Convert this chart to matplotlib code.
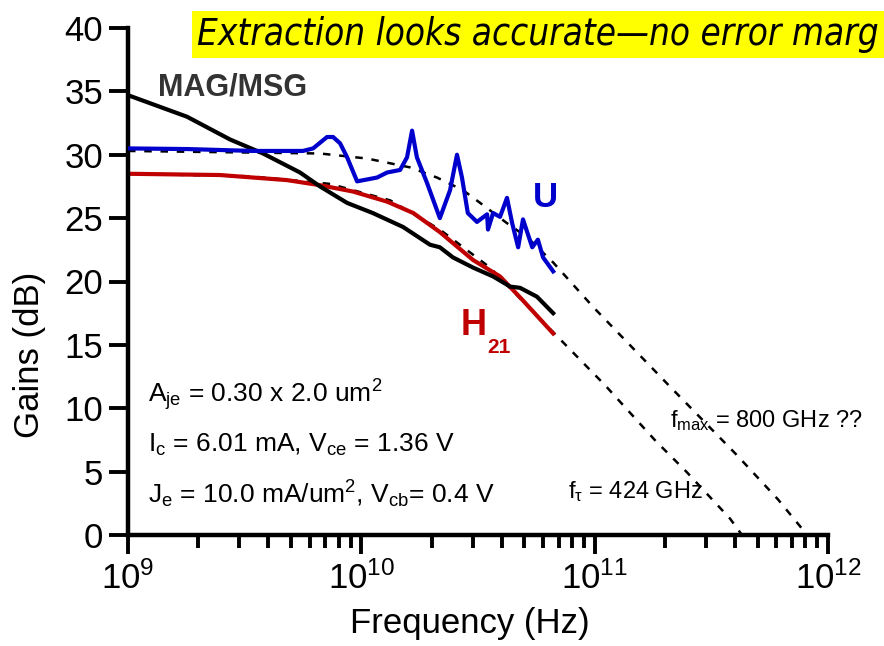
import numpy as np
import matplotlib.pyplot as plt
from matplotlib import font_manager
from matplotlib.ticker import LogLocator, NullFormatter

plt.rcParams['font.family'] = ['Liberation Sans', 'DejaVu Sans']
plt.rcParams['mathtext.fontset'] = 'custom'
plt.rcParams['mathtext.rm'] = 'Liberation Sans'
plt.rcParams['mathtext.it'] = 'Liberation Sans'
plt.rcParams['mathtext.bf'] = 'Liberation Sans:bold'

# Mediciones (frecuencia en GHz, ganancia en dB)
mag_f = [1.0, 1.79, 2.74, 3.79, 5.46, 6.65, 8.69, 11.2, 15.1, 19.7, 21.7, 24.7, 30.1, 36.7, 43.4, 47.9, 56.6, 66.4]
mag_db = [34.7, 33.0, 31.2, 30.1, 28.6, 27.5, 26.2, 25.4, 24.3, 22.9, 22.7, 21.9, 21.1, 20.4, 19.6, 19.5, 18.8, 17.5]

h21_f = [1.0, 2.48, 4.80, 6.65, 9.2, 12.9, 16.7, 21.7, 30.1, 39.3, 49.3, 66.4]
h21_db = [28.5, 28.4, 28.0, 27.6, 27.1, 26.3, 25.4, 23.9, 21.7, 20.4, 18.5, 15.9]

u_f = [1.0, 1.79, 3.44, 5.62, 6.21, 7.13, 7.57, 8.11, 8.69, 9.59, 11.67, 12.9, 14.66, 15.7, 16.5,
       17.3, 19.1, 21.7, 24.0, 25.7, 27.0, 28.6, 31.3, 34.6, 34.9, 36.7, 39.3, 42.1, 44.3, 47.0,
       49.3, 54.0, 57.1, 60.1, 66.4]
u_db = [30.5, 30.45, 30.3, 30.3, 30.5, 31.4, 31.4, 30.9, 29.8, 27.9, 28.2, 28.6, 28.8, 29.8, 31.9,
        29.8, 27.8, 25.0, 27.2, 30.0, 28.2, 25.4, 24.7, 25.3, 24.1, 25.4, 25.1, 26.6, 24.6, 22.7,
        24.9, 22.7, 23.3, 21.9, 20.8]

# Ajustes (lineas punteadas)
u_fit_f = [1.0, 6.65, 10.6, 16.2, 21.1, 27.3, 32.3, 42.1, 51.3, 66.4, 98.4, 208, 407, 611, 798]
u_fit_db = [30.3, 30.1, 29.7, 29.0, 28.2, 27.2, 26.2, 24.6, 23.5, 21.5, 18.0, 11.8, 6.3, 2.8, 0.2]

h21_fit_f = [1.0, 3.34, 7.35, 13.3, 21.7, 35.6, 66.4, 111, 183, 247, 380, 424]
h21_fit_db = [28.5, 28.3, 27.7, 26.4, 24.1, 21.1, 16.0, 11.8, 7.4, 5.0, 1.3, 0.1]

W, H = 884, 646


def px(x, y):
    return x / W, 1 - y / H


# Fuente estrecha para el titulo, si existe
nombres = {f.name for f in font_manager.fontManager.ttflist}
condensadas = [f for f in font_manager.fontManager.ttflist
               if f.name == 'DejaVu Sans' and 'Condensed' in f.fname]
if 'Liberation Sans Narrow' in nombres:
    titulo_font = dict(family='Liberation Sans Narrow', style='italic')
elif condensadas:
    titulo_font = dict(family='DejaVu Sans', stretch='condensed', style='oblique')
else:
    titulo_font = dict(family='Liberation Sans', style='italic')

fig = plt.figure(figsize=(W / 100, H / 100), dpi=100)
ax = fig.add_axes([128 / W, 1 - 535 / H, 700 / W, 507 / H])

ghz = 1e9
ax.plot(np.array(u_fit_f) * ghz, u_fit_db, color='black', lw=1.8, dashes=[3, 3.5], zorder=1)
ax.plot(np.array(h21_fit_f) * ghz, h21_fit_db, color='black', lw=1.8, dashes=[3, 3.5], zorder=1)
ax.plot(np.array(mag_f) * ghz, mag_db, color='black', lw=3, zorder=3)
ax.plot(np.array(h21_f) * ghz, h21_db, color='#C00000', lw=3, zorder=2)
ax.plot(np.array(u_f) * ghz, u_db, color='#0000CC', lw=3, zorder=4)

ax.set_xscale('log')
ax.set_xlim(1e9, 1e12)
ax.set_ylim(0, 40)
ax.set_yticks(np.arange(0, 41, 5))
ax.xaxis.set_major_locator(LogLocator(base=10, numticks=10))
ax.xaxis.set_minor_locator(LogLocator(base=10, subs=np.arange(2, 10), numticks=20))
ax.xaxis.set_minor_formatter(NullFormatter())

for s in ['top', 'right']:
    ax.spines[s].set_visible(False)
for s in ['left', 'bottom']:
    ax.spines[s].set_linewidth(3.2)
ax.tick_params(which='major', direction='out', length=14, width=2.8, labelsize=25, pad=4)
ax.tick_params(which='minor', direction='out', length=9, width=2.8)
ax.tick_params(axis='x', which='major', pad=5)

ax.set_xlabel('Frequency (Hz)', fontsize=25)
ax.set_ylabel('Gains (dB)', fontsize=25)
ax.xaxis.set_label_coords(0.489, -0.142)
ax.yaxis.set_label_coords(-0.117, 0.355)

# Titulo: se ajusta el tamano para que quepa hasta el borde derecho
titulo = fig.text(*px(197, 45), 'Extraction looks accurate\u2014no error marg', fontsize=31,
                  va='baseline', **titulo_font)
fig.canvas.draw()
ancho = titulo.get_window_extent().width
titulo.set_fontsize(31 * min(1.0, 680 / ancho))
titulo.set_bbox(dict(facecolor='yellow', edgecolor='none', pad=4))

# Etiquetas de curvas
fig.text(*px(158, 95), 'MAG/MSG', fontsize=22, weight='bold', color='#333333', va='baseline')
fig.text(*px(533, 207), 'U', fontsize=25, weight='bold', color='#0000CC', va='baseline')
fig.text(*px(461, 335), 'H', fontsize=26, weight='bold', color='#C00000', va='baseline')
fig.text(*px(487, 353), '21', fontsize=15, weight='bold', color='#C00000', va='baseline')

# Parametros del dispositivo
fig.text(*px(148, 402), r'A$_{\mathregular{je}}$ = 0.30 x 2.0 um$^{\mathregular{2}}$', fontsize=19, va='baseline')
fig.text(*px(148, 452), r'I$_{\mathregular{c}}$ = 6.01 mA, V$_{\mathregular{ce}}$ = 1.36 V', fontsize=19, va='baseline')
fig.text(*px(148, 503), r'J$_{\mathregular{e}}$ = 10.0 mA/um$^{\mathregular{2}}$, V$_{\mathregular{cb}}$= 0.4 V', fontsize=19, va='baseline')

fig.text(*px(670, 427), r'f$_{\mathregular{max}}$ = 800 GHz ??', fontsize=17, va='baseline')
fig.text(*px(568, 498), r'f$_{\tau}$ = 424 GHz', fontsize=17, va='baseline')

fig.savefig('out.png', dpi=100)
